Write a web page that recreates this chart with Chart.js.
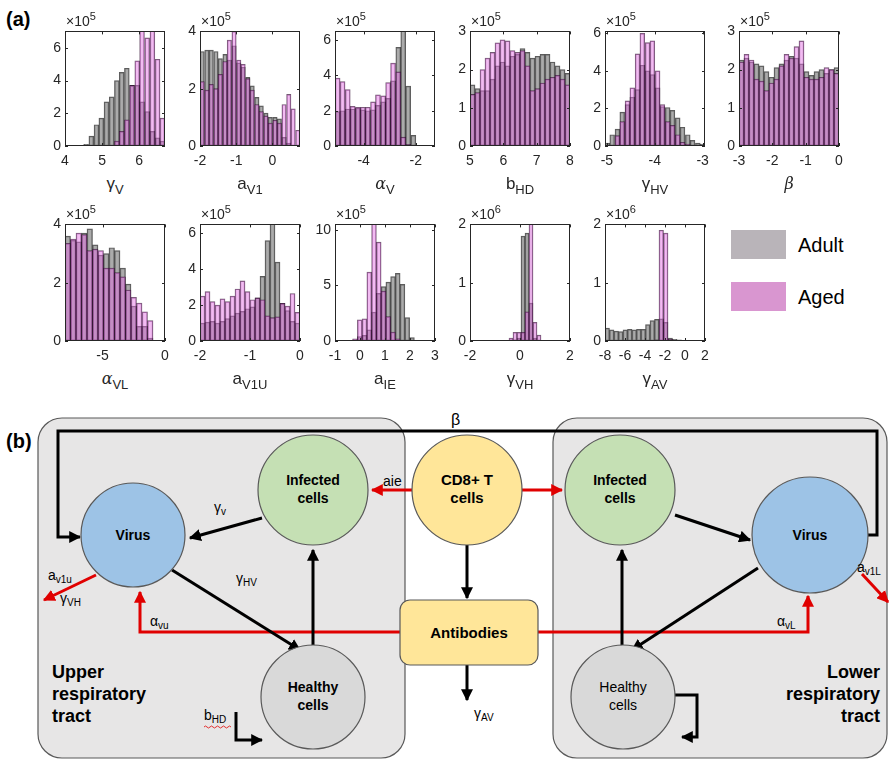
<!DOCTYPE html>
<html><head><meta charset="utf-8">
<script src="https://cdn.jsdelivr.net/npm/chart.js@4"></script>
<style>
body{margin:0;background:#fff;width:890px;height:765px;overflow:hidden;position:relative;font-family:"Liberation Sans",Arial,sans-serif;color:#262626;}
canvas.h{position:absolute;}
.t{position:absolute;white-space:nowrap;line-height:1;}
.exp{font-size:14px;}
.exp sup{font-size:11px;vertical-align:6px;}
.ttl{font-size:17px;text-align:center;}
.ttl sub{font-size:13px;vertical-align:-5px;}
.gr{font-family:"DejaVu Serif",serif;font-style:italic;font-size:16px;}
.panel{position:absolute;font-weight:bold;font-size:20px;color:#000;}
.leg{position:absolute;font-size:20px;color:#000;}
.sw{position:absolute;width:55px;height:29px;}
</style></head><body>
<div class="panel" style="left:6px;top:8px">(a)</div>
<div class="panel" style="left:6px;top:430px">(b)</div>

<script>
// ---------- DATA (counts; Adult = grey, Aged = pink) ----------
// gamma_V  (x10^5)
const gammaV_bins  = [4.57,4.71,4.85,4.98,5.12,5.26,5.40,5.53,5.67,5.81,5.95,6.08,6.22,6.36,6.50,6.63];
const gammaV_adult = [0.1,0.6,1.3,1.7,2.7,3.0,4.0,4.5,4.75,3.7,3.7,2.7,2.1,0.9,0.5,0.3];
const gammaV_aged  = [0,0,0,0,0,0,0.3,0.9,1.6,3.7,5.2,7.5,6.6,7.5,5.3,1.7];
// a_V1 (x10^5)
const aV1_bins  = [-1.94,-1.81,-1.69,-1.56,-1.44,-1.31,-1.19,-1.06,-0.93,-0.81,-0.68,-0.56,-0.43,-0.31,-0.18,-0.06,0.07,0.19,0.32,0.45,0.57,0.70];
const aV1_adult = [3.3,3.35,3.35,3.3,3.05,3.2,3.0,3.5,2.9,2.75,2.4,2.1,1.7,1.4,1.15,1.0,1.0,0.95,0.3,0.1,0,0];
const aV1_aged  = [2.25,1.95,2.15,2.0,2.5,2.95,3.7,4.0,3.0,2.85,2.35,1.95,1.45,1.2,1.05,0.8,0.9,0.8,1.45,1.8,1.3,0.55];
// alpha_V (x10^5)
const alphaV_bins  = [-5.0,-4.81,-4.61,-4.42,-4.22,-4.03,-3.84,-3.64,-3.45,-3.25,-3.06,-2.87,-2.67,-2.48,-2.29,-2.09];
const alphaV_adult = [1.95,2.0,2.1,2.1,2.15,2.05,2.0,2.05,2.3,2.5,2.7,3.7,5.6,6.6,3.4,0.6];
const alphaV_aged  = [3.85,3.65,3.2,2.25,2.2,2.2,2.2,2.5,2.9,2.85,3.6,4.7,4.2,0.5,0.1,0];
// b_HD (x10^5)
const bHD_bins  = [5.075,5.225,5.375,5.525,5.675,5.825,5.975,6.125,6.275,6.425,6.575,6.725,6.875,7.025,7.175,7.325,7.475,7.625,7.775,7.925];
const bHD_adult = [1.6,1.5,1.45,1.45,1.75,2.1,2.2,2.1,2.35,2.4,2.55,2.45,2.3,2.35,2.4,2.4,2.2,2.1,2.0,1.9];
const bHD_aged  = [1.35,1.4,2.0,2.3,2.45,2.7,2.78,2.75,2.5,2.45,2.5,2.1,1.45,1.5,1.65,1.75,1.8,1.85,1.75,1.6];
// gamma_HV (x10^5)
const gammaHV_bins  = [-4.99,-4.89,-4.78,-4.68,-4.57,-4.47,-4.36,-4.26,-4.15,-4.05,-3.94,-3.84,-3.73,-3.63,-3.52,-3.42,-3.31,-3.21,-3.10,-3.00];
const gammaHV_adult = [0.15,0.6,0.9,1.8,2.2,2.6,3.0,4.3,4.0,3.8,3.1,2.1,2.05,1.9,1.5,1.0,0.6,0.3,0.15,0.1];
const gammaHV_aged  = [0,0.05,0.55,1.3,2.4,3.1,4.9,6.0,5.5,5.6,4.0,2.2,1.3,1.1,0.6,0.2,0.1,0,0,0];
// beta (x10^5)
const beta_bins  = [-2.925,-2.775,-2.625,-2.475,-2.325,-2.175,-2.025,-1.875,-1.725,-1.575,-1.425,-1.275,-1.125,-0.975,-0.825,-0.675,-0.525,-0.375,-0.225,-0.075];
const beta_adult = [2.25,2.3,2.2,2.15,2.1,1.95,1.8,2.05,2.15,2.25,2.35,2.3,2.15,1.95,1.85,1.95,2.0,1.9,2.0,2.05];
const beta_aged  = [2.2,2.4,2.25,1.75,1.7,1.45,1.65,1.75,2.1,2.4,2.3,2.6,2.75,1.8,1.75,1.75,1.8,2.05,2.0,1.9];
// alpha_VL (x10^5)
const alphaVL_bins  = [-7.78,-7.34,-6.90,-6.46,-6.02,-5.58,-5.14,-4.70,-4.26,-3.82,-3.38,-2.94,-2.50,-2.06,-1.62,-1.18];
const alphaVL_adult = [3.6,3.45,3.4,3.7,3.85,3.3,2.95,3.0,3.2,3.1,2.5,1.95,1.2,0.5,0.5,0.1];
const alphaVL_aged  = [3.35,3.5,3.7,3.65,3.1,3.15,3.1,2.5,2.5,2.35,2.2,1.75,1.5,1.3,1.0,0.7];
// a_V1U (x10^5)
const aV1U_bins  = [-1.95,-1.85,-1.75,-1.65,-1.55,-1.45,-1.35,-1.25,-1.15,-1.05,-0.95,-0.85,-0.75,-0.65,-0.55,-0.45,-0.35,-0.25,-0.15,-0.05];
const aV1U_adult = [1.0,1.05,1.1,1.0,1.1,1.25,1.4,1.55,1.65,1.8,1.9,2.4,3.6,5.6,6.6,4.4,2.1,1.7,1.1,1.0];
const aV1U_aged  = [2.5,2.75,2.2,2.0,2.35,2.2,2.5,2.9,3.35,2.75,2.3,2.4,2.3,1.4,1.3,1.35,2.1,1.95,2.65,1.6];
// a_IE (x10^5)
const aIE_bins  = [-0.2,-0.01,0.18,0.37,0.56,0.75,0.94,1.13,1.32,1.51,1.70,1.89,2.08,2.27];
const aIE_adult = [0.1,0.4,0.5,1.0,2.6,4.3,4.9,5.3,5.8,6.1,5.1,2.1,0.3,0];
const aIE_aged  = [0.2,1.9,2.0,6.2,11.5,8.9,4.5,2.2,0.8,0.2,0,0,0,0];
// gamma_VH (x10^6)
const gammaVH_bins  = [-0.36,-0.20,-0.04,0.12,0.28,0.44,0.60,0.76];
const gammaVH_adult = [0,0.02,0.05,1.8,1.85,0.65,0.05,0];
const gammaVH_aged  = [0.05,0.15,0.15,0.15,0.5,2.1,0.32,0.1];
// gamma_AV (x10^6)
const gammaAV_bins  = [-7.775,-7.325,-6.875,-6.425,-5.975,-5.525,-5.075,-4.625,-4.175,-3.725,-3.275,-2.825,-2.375,-1.925,-1.475,-1.025,-0.575];
const gammaAV_adult = [0.22,0.19,0.17,0.16,0.19,0.2,0.19,0.2,0.2,0.28,0.35,0.37,0.38,0.32,0.05,0.03,0.02];
const gammaAV_aged  = [0,0,0,0,0,0,0,0,0,0,0,0.02,1.9,1.85,0.03,0,0];

// series names, axis ticks / labels
const seriesNames = ['Adult','Aged'];
const panels = [
 {bins:gammaV_bins, adult:gammaV_adult, aged:gammaV_aged, xMin:4, xMax:6.7, xTicks:[4,5,6], yMax:7, yTicks:[0,2,4,6], exp:'5', title:'&gamma;<sub>V</sub>'},
 {bins:aV1_bins, adult:aV1_adult, aged:aV1_aged, xMin:-2, xMax:0.76, xTicks:[-2,-1,0], yMax:4, yTicks:[0,2,4], exp:'5', title:'a<sub>V1</sub>'},
 {bins:alphaV_bins, adult:alphaV_adult, aged:alphaV_aged, xMin:-5.1, xMax:-1.26, xTicks:[-4,-2], yMax:6.5, yTicks:[0,2,4,6], exp:'5', title:'<span class="gr">&alpha;</span><sub>V</sub>'},
 {bins:bHD_bins, adult:bHD_adult, aged:bHD_aged, xMin:5, xMax:8, xTicks:[5,6,7,8], yMax:3, yTicks:[0,1,2,3], exp:'5', title:'b<sub>HD</sub>'},
 {bins:gammaHV_bins, adult:gammaHV_adult, aged:gammaHV_aged, xMin:-5.04, xMax:-2.95, xTicks:[-5,-4,-3], yMax:6.1, yTicks:[0,2,4,6], exp:'5', title:'&gamma;<sub>HV</sub>'},
 {bins:beta_bins, adult:beta_adult, aged:beta_aged, xMin:-3, xMax:0, xTicks:[-3,-2,-1,0], yMax:3, yTicks:[0,1,2,3], exp:'5', title:'<span class="gr">&beta;</span>'},
 {bins:alphaVL_bins, adult:alphaVL_adult, aged:alphaVL_aged, xMin:-8, xMax:0, xTicks:[-5,0], yMax:4, yTicks:[0,2,4], exp:'5', title:'<span class="gr">&alpha;</span><sub>VL</sub>'},
 {bins:aV1U_bins, adult:aV1U_adult, aged:aV1U_aged, xMin:-2, xMax:0, xTicks:[-2,-1,0], yMax:6.5, yTicks:[0,2,4,6], exp:'5', title:'a<sub>V1U</sub>'},
 {bins:aIE_bins, adult:aIE_adult, aged:aIE_aged, xMin:-1, xMax:3, xTicks:[-1,0,1,2,3], yMax:10.5, yTicks:[0,5,10], exp:'5', title:'a<sub>IE</sub>'},
 {bins:gammaVH_bins, adult:gammaVH_adult, aged:gammaVH_aged, xMin:-2, xMax:2, xTicks:[-2,0,2], yMax:2, yTicks:[0,1,2], exp:'6', title:'&gamma;<sub>VH</sub>'},
 {bins:gammaAV_bins, adult:gammaAV_adult, aged:gammaAV_aged, xMin:-8, xMax:2, xTicks:[-8,-6,-4,-2,0,2], yMax:2, yTicks:[0,1,2], exp:'6', title:'&gamma;<sub>AV</sub>'}
];
</script>

<div class="sw" style="left:731px;top:230px;background:#b9b4b9"></div>
<div class="leg" style="left:798px;top:234px">Adult</div>
<div class="sw" style="left:731px;top:282px;background:#d996d0"></div>
<div class="leg" style="left:798px;top:286px">Aged</div>

<svg width="890" height="765" style="position:absolute;left:0;top:0" xmlns="http://www.w3.org/2000/svg" font-family="Liberation Sans, Arial, sans-serif">
 <defs>
  <marker id="ab" viewBox="0 0 10 10" refX="9" refY="5" markerWidth="4" markerHeight="4" orient="auto"><path d="M0,0 L10,5 L0,10 z" fill="#000"/></marker>
  <marker id="ar" viewBox="0 0 10 10" refX="9" refY="5" markerWidth="4" markerHeight="4" orient="auto"><path d="M0,0 L10,5 L0,10 z" fill="#e00000"/></marker>
 </defs>
 <rect x="38" y="418" width="367" height="340" rx="24" fill="#e7e6e6" stroke="#595959" stroke-width="1.2"/>
 <rect x="553" y="418" width="334" height="340" rx="24" fill="#e7e6e6" stroke="#595959" stroke-width="1.2"/>
 <!-- beta loop -->
 <polyline points="868,535 877,535 877,431 58,431 58,537 80,537" fill="none" stroke="#000" stroke-width="3" marker-end="url(#ab)"/>
 <text x="451" y="425" font-size="16">β</text>
 <!-- red lines -->
 <polyline points="400,632 140,632 140,592" fill="none" stroke="#e00000" stroke-width="3" marker-end="url(#ar)"/>
 <polyline points="538,632 808,632 808,596" fill="none" stroke="#e00000" stroke-width="3" marker-end="url(#ar)"/>
 <line x1="412" y1="490" x2="372" y2="490" stroke="#e00000" stroke-width="3" marker-end="url(#ar)"/>
 <line x1="522" y1="490" x2="562" y2="490" stroke="#e00000" stroke-width="3" marker-end="url(#ar)"/>
 <line x1="96" y1="575" x2="44" y2="600" stroke="#e00000" stroke-width="3" marker-end="url(#ar)"/>
 <line x1="862" y1="574" x2="888" y2="602" stroke="#e00000" stroke-width="3" marker-end="url(#ar)"/>
 <!-- black arrows -->
 <line x1="262" y1="518" x2="190" y2="538" stroke="#000" stroke-width="3" marker-end="url(#ab)"/>
 <line x1="172" y1="570" x2="300" y2="650" stroke="#000" stroke-width="3" marker-end="url(#ab)"/>
 <line x1="313" y1="650" x2="313" y2="550" stroke="#000" stroke-width="3" marker-end="url(#ab)"/>
 <line x1="467" y1="545" x2="467" y2="598" stroke="#000" stroke-width="3" marker-end="url(#ab)"/>
 <line x1="467" y1="665" x2="467" y2="700" stroke="#000" stroke-width="3" marker-end="url(#ab)"/>
 <line x1="675" y1="515" x2="750" y2="540" stroke="#000" stroke-width="3" marker-end="url(#ab)"/>
 <line x1="758" y1="568" x2="632" y2="650" stroke="#000" stroke-width="3" marker-end="url(#ab)"/>
 <line x1="622" y1="650" x2="622" y2="550" stroke="#000" stroke-width="3" marker-end="url(#ab)"/>
 <polyline points="236,712 236,740 262,740" fill="none" stroke="#000" stroke-width="3" marker-end="url(#ab)"/>
 <polyline points="675,695 697,695 697,737 682,737" fill="none" stroke="#000" stroke-width="3" marker-end="url(#ab)"/>
 <!-- nodes -->
 <circle cx="133" cy="535" r="52" fill="#9dc3e6" stroke="#595959" stroke-width="1.2"/>
 <circle cx="313" cy="490" r="55" fill="#c5e0b4" stroke="#595959" stroke-width="1.2"/>
 <circle cx="467" cy="490" r="55" fill="#ffe699" stroke="#595959" stroke-width="1.2"/>
 <circle cx="620" cy="490" r="55" fill="#c5e0b4" stroke="#595959" stroke-width="1.2"/>
 <circle cx="810" cy="535" r="58" fill="#9dc3e6" stroke="#595959" stroke-width="1.2"/>
 <circle cx="313" cy="697" r="52" fill="#d9d9d9" stroke="#595959" stroke-width="1.2"/>
 <circle cx="623" cy="697" r="52" fill="#d9d9d9" stroke="#595959" stroke-width="1.2"/>
 <rect x="400" y="600" width="138" height="65" rx="10" fill="#ffe699" stroke="#595959" stroke-width="1.2"/>
 <!-- node text -->
 <g font-weight="bold" font-size="14" text-anchor="middle" fill="#000">
  <text x="133" y="540">Virus</text>
  <text x="810" y="540">Virus</text>
  <text x="313" y="485">Infected</text><text x="313" y="503">cells</text>
  <text x="620" y="485">Infected</text><text x="620" y="503">cells</text>
  <text x="467" y="485" font-size="15">CD8+ T</text><text x="467" y="503" font-size="15">cells</text>
  <text x="469" y="638" font-size="15">Antibodies</text>
  <text x="313" y="692">Healthy</text><text x="313" y="710">cells</text>
  <text x="623" y="692" font-weight="normal">Healthy</text><text x="623" y="710" font-weight="normal">cells</text>
 </g>
 <g font-weight="bold" font-size="18" fill="#000">
  <text x="52" y="678">Upper</text><text x="52" y="700">respiratory</text><text x="52" y="722">tract</text>
  <text x="880" y="678" text-anchor="end">Lower</text><text x="880" y="700" text-anchor="end">respiratory</text><text x="880" y="722" text-anchor="end">tract</text>
 </g>
 <!-- arrow labels -->
 <g font-size="14" fill="#000">
  <text x="214" y="512">γ<tspan font-size="10" dy="3">v</tspan></text>
  <text x="236" y="583">γ<tspan font-size="10" dy="3">HV</tspan></text>
  <text x="383" y="486">aie</text>
  <text x="48" y="580">a<tspan font-size="10" dy="3">v1u</tspan></text>
  <text x="60" y="603">γ<tspan font-size="10" dy="3">VH</tspan></text>
  <text x="150" y="626">α<tspan font-size="10" dy="3">vu</tspan></text>
  <text x="777" y="626">α<tspan font-size="10" dy="3">vL</tspan></text>
  <text x="857" y="572">a<tspan font-size="10" dy="3">v1L</tspan></text>
  <text x="474" y="718">γ<tspan font-size="10" dy="3">AV</tspan></text>
  <text x="204" y="720">b<tspan font-size="10" dy="3">HD</tspan></text>
 </g>
 <path d="M204,727 q1.5,-2 3,0 t3,0 t3,0 t3,0 t3,0 t3,0 t3,0 t3,0 t3,0" fill="none" stroke="#e00000" stroke-width="0.8"/>
</svg>

<script>
const GRID = {lefts:[65,200,335,470,605,739], rows:[{top:29,h:117},{top:222,h:119}], w:100};
const PAD_L = 40, PAD_R = 16, PAD_T = 10, XH = 26;
const framePlugin = {
  id:'frame',
  afterDatasetsDraw(chart){
    const {ctx, chartArea:a, scales:{x,y}} = chart;
    ctx.save();
    ctx.strokeStyle = '#262626'; ctx.lineWidth = 1;
    ctx.strokeRect(Math.round(a.left)+0.5, Math.round(a.top)+0.5, Math.round(a.right-a.left)-1, Math.round(a.bottom-a.top)-1);
    ctx.beginPath();
    x.ticks.forEach(t=>{const p=Math.round(x.getPixelForValue(t.value))+0.5; ctx.moveTo(p,a.bottom); ctx.lineTo(p,a.bottom-3); ctx.moveTo(p,a.top); ctx.lineTo(p,a.top+3);});
    y.ticks.forEach(t=>{const p=Math.round(y.getPixelForValue(t.value))+0.5; ctx.moveTo(a.left,p); ctx.lineTo(a.left+3,p); ctx.moveTo(a.right,p); ctx.lineTo(a.right-3,p);});
    ctx.stroke();
    ctx.restore();
  }
};
panels.forEach((p,i)=>{
  const row = i<6?0:1, col = i<6?i:i-6;
  const left = GRID.lefts[col], top = GRID.rows[row].top, h = GRID.rows[row].h, w = GRID.w;
  const cv = document.createElement('canvas');
  cv.className='h';
  cv.width = PAD_L + w + PAD_R; cv.height = PAD_T + h + XH;
  cv.style.left = (left-PAD_L)+'px'; cv.style.top = (top-PAD_T)+'px';
  document.body.appendChild(cv);
  const e = document.createElement('div'); e.className='t exp';
  e.style.left = (left+1)+'px'; e.style.top = (top-18)+'px';
  e.innerHTML = '&times;10<sup>'+p.exp+'</sup>';
  document.body.appendChild(e);
  const tt = document.createElement('div'); tt.className='t ttl';
  tt.style.left = (left-20)+'px'; tt.style.width=(w+40)+'px'; tt.style.top=(top+h+29)+'px';
  tt.innerHTML = p.title;
  document.body.appendChild(tt);
  new Chart(cv,{
    type:'bar',
    data:{datasets:[
      {label:seriesNames[0], data:p.bins.map((b,k)=>({x:b,y:p.adult[k]})), backgroundColor:'rgba(115,115,115,0.6)', borderColor:'rgba(20,20,20,0.7)', borderWidth:0.8, grouped:false, order:1, barPercentage:1, categoryPercentage:1, borderSkipped:false},
      {label:seriesNames[1], data:p.bins.map((b,k)=>({x:b,y:p.aged[k]})), backgroundColor:'rgba(228,110,228,0.47)', borderColor:'rgba(40,0,40,0.65)', borderWidth:0.8, grouped:false, order:0, barPercentage:1, categoryPercentage:1, borderSkipped:false}
    ]},
    options:{
      responsive:false, animation:false, devicePixelRatio:1,
      layout:{padding:{left:0,right:PAD_R,top:PAD_T,bottom:0}},
      plugins:{legend:{display:false}, tooltip:{enabled:false}},
      scales:{
        x:{type:'linear', min:p.xMin, max:p.xMax, offset:false,
           afterBuildTicks:s=>{s.ticks=p.xTicks.map(v=>({value:v}));},
           afterFit:s=>{s.height=XH;},
           grid:{display:false, drawTicks:false}, border:{display:false},
           ticks:{color:'#262626', font:{family:'Liberation Sans', size:14}, padding:7, maxRotation:0, autoSkip:false}},
        y:{min:0, max:p.yMax,
           afterBuildTicks:s=>{s.ticks=p.yTicks.map(v=>({value:v}));},
           afterFit:s=>{s.width=PAD_L;},
           grid:{display:false, drawTicks:false}, border:{display:false},
           ticks:{color:'#262626', font:{family:'Liberation Sans', size:14}, padding:4}}
      }
    },
    plugins:[framePlugin]
  });
});
</script>
</body></html>
